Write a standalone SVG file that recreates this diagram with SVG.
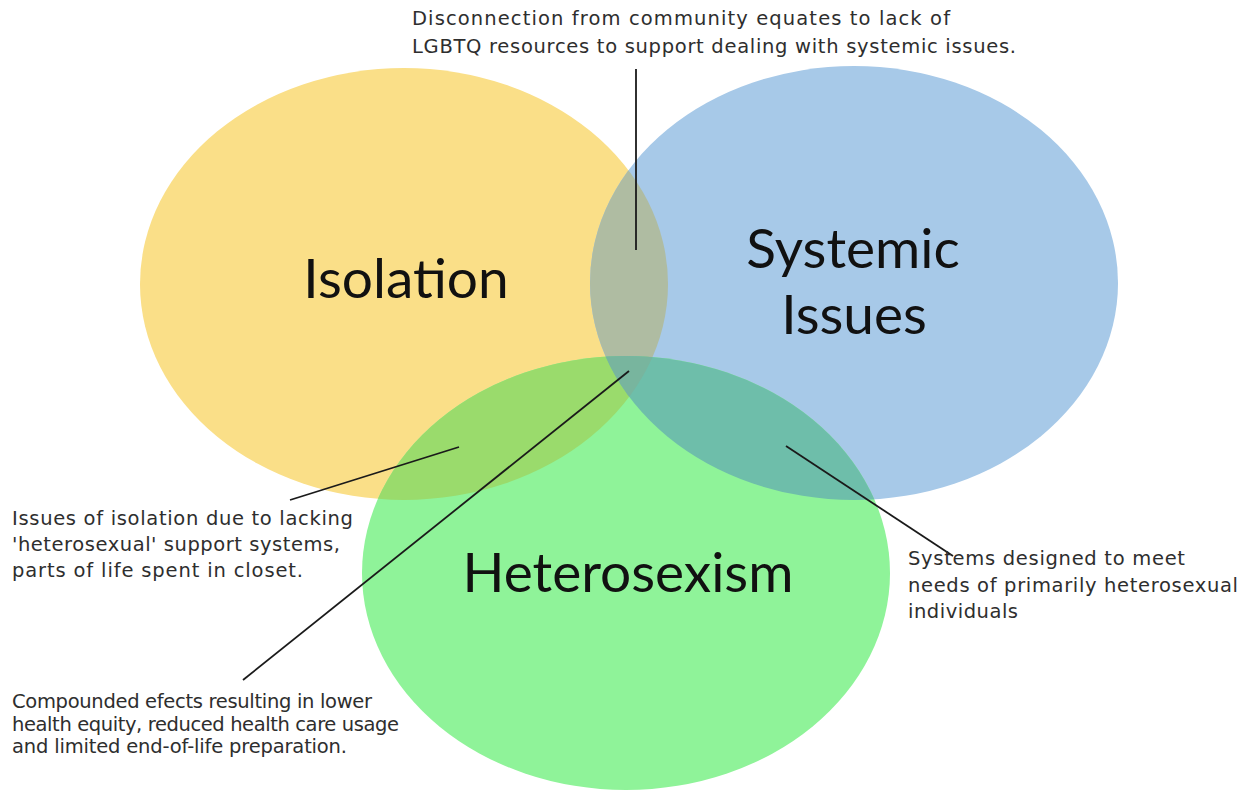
<svg xmlns="http://www.w3.org/2000/svg" width="1256" height="791" viewBox="0 0 1256 791">
<style>
.big{font-family:Lato,"Open Sans","Liberation Sans",sans-serif;font-size:55px;fill:#111;text-anchor:middle}
.note{font-family:"DejaVu Sans","Liberation Sans",sans-serif;font-size:19.5px;fill:#2e2e2e}
.conn line{stroke:#1a1a1a;stroke-width:1.8}
</style>
<defs>
<clipPath id="cY"><ellipse cx="404" cy="284" rx="264" ry="216"/></clipPath>
<clipPath id="cB"><ellipse cx="854" cy="283" rx="264" ry="217"/></clipPath>
</defs>
<rect width="1256" height="791" fill="#fff"/>
<g id="isolation">
<ellipse cx="404" cy="284" rx="264" ry="216" fill="#FADF88"/>
</g>
<g id="systemic">
<ellipse cx="854" cy="283" rx="264" ry="217" fill="#A7C9E8"/>
</g>
<g id="heterosexism">
<ellipse cx="626" cy="573" rx="264" ry="217" fill="#8FF399"/>
</g>
<g id="overlaps">
<ellipse cx="854" cy="283" rx="264" ry="217" fill="#AFBCA2" clip-path="url(#cY)"/>
<ellipse cx="626" cy="573" rx="264" ry="217" fill="#9ADB6C" clip-path="url(#cY)"/>
<ellipse cx="626" cy="573" rx="264" ry="217" fill="#6EBEAA" clip-path="url(#cB)"/>
<g clip-path="url(#cB)"><ellipse cx="626" cy="573" rx="264" ry="217" fill="#78B59E" clip-path="url(#cY)"/></g>
</g>
<g id="labels">
<text class="big" x="406" y="298">Isolation</text>
<text class="big" x="853" y="268">Systemic</text>
<text class="big" x="854" y="334">Issues</text>
<text class="big" x="628" y="592">Heterosexism</text>
</g>
<g id="connectors" class="conn">
<line x1="636" y1="69" x2="636" y2="250"/>
<line x1="459" y1="447" x2="290" y2="500"/>
<line x1="629" y1="371" x2="243" y2="680"/>
<line x1="786" y1="446" x2="953" y2="556"/>
</g>
<g id="note-top">
<text class="note" x="412" y="25" textLength="538">Disconnection from community equates to lack of</text>
<text class="note" x="412" y="53" textLength="604">LGBTQ resources to support dealing with systemic issues.</text>
</g>
<g id="note-left">
<text class="note" x="12" y="525" textLength="341">Issues of isolation due to lacking</text>
<text class="note" x="12" y="551" textLength="328">'heterosexual' support systems,</text>
<text class="note" x="12" y="577" textLength="291">parts of life spent in closet.</text>
</g>
<g id="note-bottom">
<text class="note" x="12" y="708" textLength="360">Compounded efects resulting in lower</text>
<text class="note" x="12" y="731" textLength="387">health equity, reduced health care usage</text>
<text class="note" x="12" y="753" textLength="335">and limited end-of-life preparation.</text>
</g>
<g id="note-right">
<text class="note" x="908" y="565" textLength="277">Systems designed to meet</text>
<text class="note" x="908" y="592" textLength="330">needs of primarily heterosexual</text>
<text class="note" x="908" y="618" textLength="110">individuals</text>
</g>
</svg>
